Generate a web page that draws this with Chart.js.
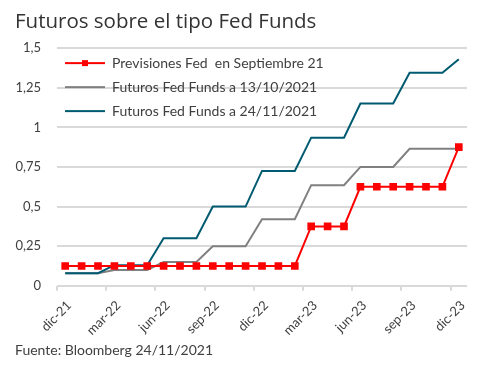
<!DOCTYPE html>
<html>
<head>
<meta charset="utf-8">
<script src="https://cdn.jsdelivr.net/npm/chart.js@4.4.0/dist/chart.umd.min.js"></script>
<style>
  html, body { margin: 0; padding: 0; background: #fff; }
  #wrap { width: 497px; height: 370px; position: relative; }
</style>
</head>
<body>
<div id="wrap"><canvas id="fed-chart"></canvas></div>
<script>
// months, dic-21 .. dic-23
const meses = [
  "dic-21", "ene-22", "feb-22", "mar-22", "abr-22", "may-22",
  "jun-22", "jul-22", "ago-22", "sep-22", "oct-22", "nov-22",
  "dic-22", "ene-23", "feb-23", "mar-23", "abr-23", "may-23",
  "jun-23", "jul-23", "ago-23", "sep-23", "oct-23", "nov-23",
  "dic-23",
];

const previsionesSep21 = [
  0.125, 0.125, 0.125, 0.125, 0.125, 0.125, 0.125, 0.125, 0.125,
  0.125, 0.125, 0.125, 0.125, 0.125, 0.125,
  0.375, 0.375, 0.375,
  0.625, 0.625, 0.625, 0.625, 0.625, 0.625,
  0.875,
];

const futuros131021 = [
  0.08, 0.08, 0.08, 0.10, 0.10, 0.10, 0.15, 0.15, 0.15,
  0.25, 0.25, 0.25, 0.42, 0.42, 0.42, 0.635, 0.635, 0.635,
  0.75, 0.75, 0.75, 0.865, 0.865, 0.865, 0.865,
];

const futuros241121 = [
  0.08, 0.08, 0.08, 0.13, 0.13, 0.13, 0.30, 0.30, 0.30,
  0.50, 0.50, 0.50, 0.725, 0.725, 0.725, 0.935, 0.935, 0.935,
  1.15, 1.15, 1.15, 1.345, 1.345, 1.345, 1.43,
];

const seriesNames = [
  "Previsiones Fed  en Septiembre 21",
  "Futuros Fed Funds a 13/10/2021",
  "Futuros Fed Funds a 24/11/2021",
];

const RED = "#ff0000";
const GREY = "#808080";
const TEAL = "#005a70";
const TEXT = "#404040";
const FONT = "Lato";

// little line (+ marker) swatch for the legend
function swatch(color, marker) {
  const c = document.createElement("canvas");
  c.width = 40;
  c.height = 10;
  const g = c.getContext("2d");
  g.strokeStyle = color;
  g.lineWidth = 2;
  g.beginPath();
  g.moveTo(0, 5);
  g.lineTo(40, 5);
  g.stroke();
  if (marker) {
    g.fillStyle = color;
    g.fillRect(17, 2, 6, 6);
  }
  return c;
}

const swatches = [swatch(RED, true), swatch(GREY, false), swatch(TEAL, false)];

// vertical legend in "chartArea" gets top reset to 0, push it back down
const legendInside = {
  id: "legendInside",
  afterLayout(chart) {
    const lg = chart.legend;
    const h = lg.bottom - lg.top;
    lg.top = chart.chartArea.top - 2;
    lg.bottom = lg.top + h;
    lg.left -= 2;
    lg.right -= 2;
  },
};

new Chart(document.getElementById("fed-chart"), {
  type: "line",
  data: {
    labels: meses,
    datasets: [
      {
        label: seriesNames[0],
        data: previsionesSep21,
        borderColor: RED,
        backgroundColor: RED,
        borderWidth: 2,
        pointStyle: "rect",
        pointRadius: 4,
        pointHoverRadius: 4,
        order: 0,
      },
      {
        label: seriesNames[1],
        data: futuros131021,
        borderColor: GREY,
        borderWidth: 2,
        pointRadius: 0,
        order: 2,
      },
      {
        label: seriesNames[2],
        data: futuros241121,
        borderColor: TEAL,
        borderWidth: 2,
        pointRadius: 0,
        order: 1,
      },
    ],
  },
  options: {
    responsive: true,
    maintainAspectRatio: false,
    animation: false,
    layout: {
      padding: { left: 15, right: 30, top: 0, bottom: 11 },
    },
    scales: {
      x: {
        offset: true,
        afterFit: (scale) => {
          scale.height -= 4;
        },
        border: { display: false },
        grid: {
          offset: true,
          drawOnChartArea: false,
          tickLength: 5,
          lineWidth: 2,
          color: (ctx) => (ctx.index % 3 === 0 ? "#d9d9d9" : "rgba(0,0,0,0)"),
        },
        ticks: {
          autoSkip: false,
          minRotation: 45,
          maxRotation: 45,
          padding: 7,
          labelOffset: 4,
          color: TEXT,
          font: { family: FONT, size: 13 },
          callback: function (value, index) {
            return index % 3 === 0 ? this.getLabelForValue(value) : "";
          },
        },
      },
      y: {
        min: 0,
        max: 1.5,
        afterFit: (scale) => {
          scale.width = 42;
        },
        border: { display: false },
        grid: { color: "#d9d9d9", lineWidth: 2, drawTicks: false },
        ticks: {
          stepSize: 0.25,
          padding: 16,
          color: TEXT,
          font: { family: FONT, size: 13 },
          callback: (v) => String(v).replace(".", ","),
        },
      },
    },
    plugins: {
      title: {
        display: true,
        text: "Futuros sobre el tipo Fed Funds",
        align: "start",
        color: "#333333",
        font: { family: "Open Sans", size: 20.5, weight: "normal" },
        padding: { top: 9.5, bottom: 14 },
      },
      subtitle: {
        display: true,
        position: "bottom",
        align: "start",
        text: "Fuente: Bloomberg 24/11/2021",
        color: TEXT,
        font: { family: FONT, size: 14 },
        padding: { top: 1, bottom: 0 },
      },
      legend: {
        position: "chartArea",
        align: "start",
        labels: {
          usePointStyle: true,
          pointStyleWidth: 40,
          padding: 10,
          color: TEXT,
          font: { family: FONT, size: 14 },
          generateLabels: () =>
            seriesNames.map((name, i) => ({
              text: name,
              pointStyle: swatches[i],
              fontColor: TEXT,
              hidden: false,
              lineWidth: 0,
              datasetIndex: i,
            })),
        },
      },
      tooltip: { enabled: false },
    },
  },
  plugins: [legendInside],
});
</script>
</body>
</html>
